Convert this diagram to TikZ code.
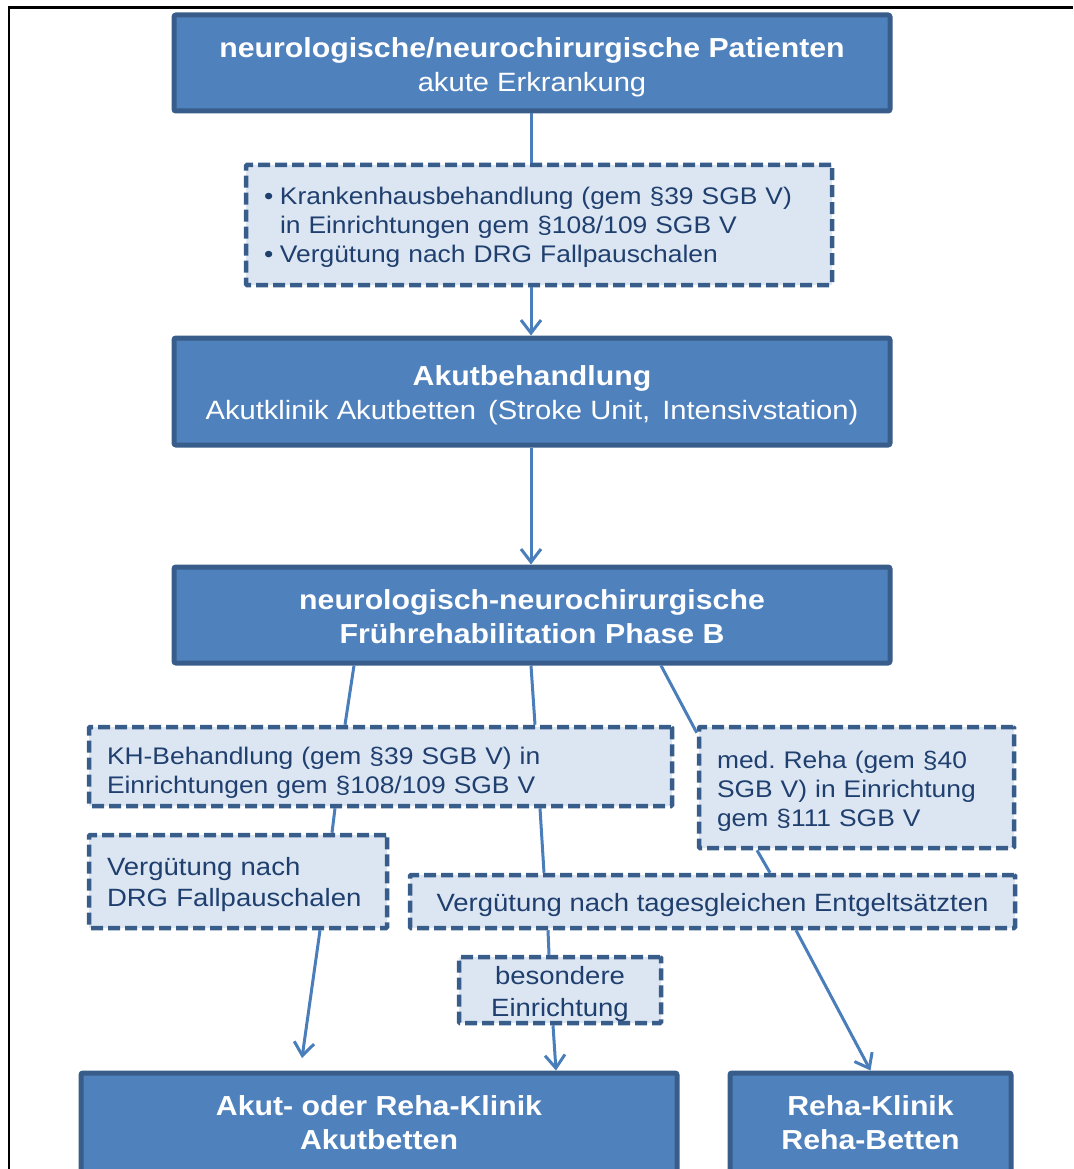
\documentclass[tikz,border=0pt]{standalone}
\usepackage{fontspec}
\setmainfont[FakeStretch=1.1]{Liberation Sans}
\usepackage{tikz}
\usetikzlibrary{arrows,arrows.meta}
\usetikzlibrary{positioning,shapes}

\definecolor{boxblue}{HTML}{4F81BD}
\definecolor{boxedge}{HTML}{385D8A}
\definecolor{infofill}{HTML}{DCE6F2}
\definecolor{infotext}{HTML}{1F3F6F}
\definecolor{linkblue}{HTML}{4A7EBB}

\newcommand\boxtitle[1]{{\fontsize{27.5}{34}\selectfont\bfseries #1}}
\newcommand\topgap[1]{\rule{0pt}{#1}}

\begin{document}
\begin{tikzpicture} [x=1pt,y=-1pt,
  lift/.style={execute at begin node={\frenchspacing\rule{0pt}{#1}}},
  mainbox/.style={rectangle,rounded corners=2pt,fill=boxblue,draw=boxedge,line width=5pt,
    text=white,align=center,inner sep=0pt,font=\fontsize{26.5}{34}\selectfont},
  infobox/.style={rectangle,rounded corners=1pt,fill=infofill,draw=boxedge,line width=4.5pt,
    dash pattern=on 12pt off 5pt,text=infotext,inner sep=0pt,font=\fontsize{24}{29}\selectfont},
  link/.style={draw=linkblue,line width=3pt,-{Straight Barb[length=13pt,width=20pt]}}]

  \useasboundingbox (0,0) rectangle (1073,1169);
  \draw[line width=2.5pt] (9,1169) -- (9,7.5) -- (1073,7.5);

  \node[mainbox,minimum width=716pt,minimum height=96pt] (pat) at (532,63)
    {\topgap{28pt}\boxtitle{neurologische/neurochirurgische Patienten}\\akute Erkrankung};
  \node[infobox,minimum width=586pt,minimum height=120pt,text width=550pt,align=left,lift=22.4pt] (kh) at (539,225)
    {\makebox[16pt][l]{•}Krankenhausbehandlung (gem §39 SGB V)\\
     \hspace*{16pt}in Einrichtungen gem §108/109 SGB V\\
     \makebox[16pt][l]{•}Vergütung nach DRG Fallpauschalen};
  \node[mainbox,minimum width=716pt,minimum height=107pt] (akut) at (532,391.5)
    {\topgap{28pt}\boxtitle{Akutbehandlung}\\Akutklinik Akutbetten\hspace{4pt} (Stroke Unit,\hspace{4pt} Intensivstation)};
  \node[mainbox,minimum width=716pt,minimum height=96pt] (frueh) at (532,615)
    {\topgap{24pt}\boxtitle{neurologisch-neurochirurgische}\\\boxtitle{Frührehabilitation Phase B}};

  \node[infobox,minimum width=583pt,minimum height=79pt,text width=547pt,align=left,lift=29pt] (khb) at (380.5,766.5)
    {KH-Behandlung (gem §39 SGB V) in\\Einrichtungen gem §108/109 SGB V};
  \node[infobox,minimum width=315pt,minimum height=121pt,text width=279pt,align=left,lift=24pt] (med) at (856.5,787.5)
    {med. Reha (gem §40\\SGB V) in Einrichtung\\gem §111 SGB V};
  \node[infobox,minimum width=298pt,minimum height=93pt,text width=262pt,align=left,lift=25pt,
    font=\fontsize{25}{31}\selectfont] (drg) at (238,881.5)
    {Vergütung nach\\DRG Fallpauschalen};
  \node[infobox,minimum width=605pt,minimum height=53pt,align=center,
    font=\fontsize{25}{29}\selectfont] (tages) at (712.5,901.5)
    {\topgap{26pt}Vergütung nach tagesgleichen Entgeltsätzten};
  \node[infobox,minimum width=202pt,minimum height=66pt,align=center,
    font=\fontsize{25}{32}\selectfont] (bes) at (560,990)
    {\topgap{26pt}besondere\\Einrichtung};

  \node[mainbox,minimum width=596pt,minimum height=100pt] (klinik) at (379,1123)
    {\boxtitle{Akut- oder Reha-Klinik}\\\boxtitle{Akutbetten}};
  \node[mainbox,minimum width=281pt,minimum height=100pt] (reha) at (870.5,1123)
    {\boxtitle{Reha-Klinik}\\\boxtitle{Reha-Betten}};

  \coordinate (drgend) at (302,1058);

  \path[every edge/.style={link}]
    ([xshift=-1pt]pat.south) edge[-] ([xshift=-8pt]kh.north)
    ([xshift=-8pt]kh.south) edge ([xshift=-1pt]akut.north)
    ([xshift=-1pt]akut.south) edge ([xshift=-1pt]frueh.north)
    ([xshift=-178pt]frueh.south) edge[-] ([xshift=-35.5pt]khb.north)
    ([xshift=-1pt]frueh.south) edge[-] ([xshift=154.5pt]khb.north)
    ([xshift=129pt]frueh.south) edge[-] ([yshift=-8pt]med.north west)
    ([xshift=-45.5pt]khb.south) edge[-] ([xshift=94pt]drg.north)
    ([xshift=159.5pt]khb.south) edge[-] ([xshift=-168.5pt]tages.north)
    ([xshift=-99.5pt]med.south) edge[-] ([xshift=57.5pt]tages.north)
    ([xshift=82pt]drg.south) edge (drgend)
    ([xshift=-164.5pt]tages.south) edge[-] ([xshift=-11pt]bes.north)
    ([xshift=-7pt]bes.south) edge ([xshift=177pt]klinik.north)
    ([xshift=83.5pt]tages.south) edge (reha.north);

\end{tikzpicture}
\end{document}
